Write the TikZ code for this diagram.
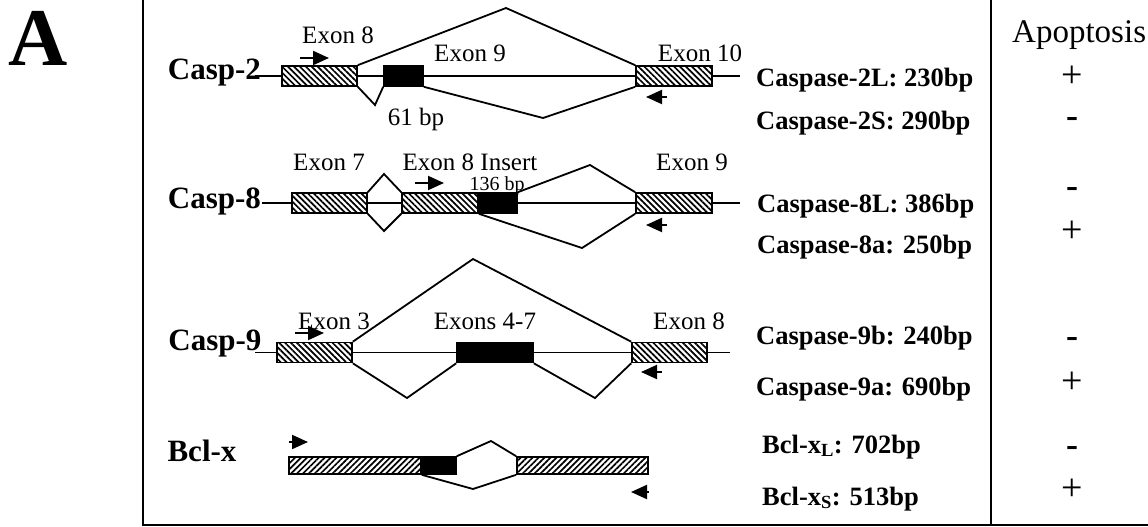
\documentclass[tikz,border=0pt]{standalone}
\usepackage{fontspec}
\setmainfont{Liberation Serif}
\usetikzlibrary{arrows.meta,patterns.meta}
\newcommand{\fsz}[1]{\fontsize{#1}{#1}\selectfont}

\begin{document}
\begin{tikzpicture}[x=1pt,y=-1pt,line width=1.8pt,
  ex/.style={draw,line width=1.6pt,inner sep=0pt,minimum height=20pt,preaction={fill=white},
    pattern={Lines[angle=-45,distance=4.2pt,line width=1.7pt]}},
  exb/.style={ex,minimum height=17pt,pattern={Lines[angle=45,distance=4.2pt,line width=1.7pt]}},
  blk/.style={draw,fill=black,line width=1.6pt,inner sep=0pt,minimum height=20pt},
  primer/.style={line width=2pt,-{Triangle[length=16pt,width=14pt]}},
  gene/.style={font=\bfseries\fsz{31},anchor=base},
  exlbl/.style={font=\fsz{25},anchor=base},
  iso/.style={font=\bfseries\fsz{26.5},anchor=base west},
  apo/.style={font=\fsz{38},anchor=base},
  neg/.style={font=\bfseries\fsz{36},anchor=base}]
\useasboundingbox (0,0) rectangle (1148,527);

\node[font=\bfseries\fsz{82},anchor=base,inner sep=0pt,text height=55pt,text depth=0pt] (pan) at (38,66) {A};
\draw[line width=2pt] (143,0) -- (143,525) -- (1148,525);
\draw[line width=2pt] (991,0) -- (991,525);

% Casp-2
\coordinate (a0) at (255,76); \coordinate (a1) at (740,76);
\coordinate (aup) at (506,8); \coordinate (adn) at (375,105); \coordinate (adn2) at (543,118);
\draw (a0) -- (a1);
\node[ex,minimum width=75pt] (a8) at (319.5,76) {};
\node[blk,minimum width=39pt] (a9) at (403.5,76) {};
\node[ex,minimum width=76pt] (a10) at (674,76) {};
\draw (a8.north east) -- (aup) -- (a10.north west);
\draw (a8.south east) -- (adn) -- (a9.south west);
\draw (a9.south east) -- (adn2) -- (a10.south west);
\draw[primer] (300,58) -- (329,58);
\draw[primer] (667,97) -- (646,97);
\node[gene] (ga) at (214.5,79) {Casp-2};
\node[exlbl] (la8) at (338,44) {Exon 8};
\node[exlbl] (la9) at (470,62) {Exon 9};
\node[exlbl] (la10) at (700,62) {Exon 10};
\node[exlbl] (lab) at (416,125) {61 bp};

% Casp-8
\coordinate (b0) at (262,203); \coordinate (b1) at (740,203);
\coordinate (bd1) at (384,174); \coordinate (bd2) at (384,231);
\coordinate (bup) at (590,165); \coordinate (bdn) at (582,248);
\draw (b0) -- (b1);
\node[ex,minimum width=75pt] (b7) at (329.5,203) {};
\node[ex,minimum width=76pt] (b8) at (440,203) {};
\node[blk,minimum width=39pt] (bi) at (497.5,203) {};
\node[ex,minimum width=76pt] (b9) at (674,203) {};
\draw (b7.north east) -- (bd1) -- (b8.north west);
\draw (b7.south east) -- (bd2) -- (b8.south west);
\draw (bi.north east) -- (bup) -- (b9.north west);
\draw (b8.south east) -- (bdn) -- (b9.south west);
\draw[primer] (415,183) -- (444,183);
\draw[primer] (667,225) -- (646,225);
\node[gene] (gb) at (214.5,208) {Casp-8};
\node[exlbl] (lb7) at (329,170) {Exon 7};
\node[exlbl] (lb8) at (470,170) {Exon 8 Insert};
\node[font=\fsz{20},anchor=base] (lbb) at (497,190) {136 bp};
\node[exlbl] (lb9) at (692,170) {Exon 9};

% Casp-9
\coordinate (c0) at (255,352.5); \coordinate (c1) at (730,352.5);
\coordinate (cup) at (473,259); \coordinate (cdn) at (407,398); \coordinate (cdn2) at (595,398);
\draw (c0) -- (c1);
\node[ex,minimum width=75pt] (c3) at (314.5,352.5) {};
\node[blk,minimum width=76pt] (c47) at (495,352.5) {};
\node[ex,minimum width=75pt] (c8) at (669.5,352.5) {};
\draw (c3.north east) -- (cup) -- (c8.north west);
\draw (c3.south east) -- (cdn) -- (c47.south west);
\draw (c47.south east) -- (cdn2) -- (c8.south west);
\draw[primer] (295,333) -- (324,333);
\draw[primer] (662,372) -- (641,372);
\node[gene] (gc) at (215,350) {Casp-9};
\node[exlbl] (lc3) at (334,329) {Exon 3};
\node[exlbl] (lc47) at (485,329) {Exons 4-7};
\node[exlbl] (lc8) at (689,329) {Exon 8};

% Bcl-x
\coordinate (dup) at (491,441); \coordinate (ddn) at (473,489);
\node[exb,minimum width=132pt] (d1) at (355,465.5) {};
\node[blk,minimum width=35pt,minimum height=17pt] (dk) at (438.5,465.5) {};
\node[exb,minimum width=131pt] (d2) at (582.5,465.5) {};
\draw (dk.north east) -- (dup) -- (d2.north west);
\draw (d1.south east) -- (ddn) -- (d2.south west);
\draw[primer] (289,442) -- (308,442);
\draw[primer] (649,492) -- (631,492);
\node[gene] (gd) at (202,461) {Bcl-x};

% isoforms
\node[iso] (i2l) at (752,86) {Caspase-2L: 230bp};
\node[iso] (i2s) at (752,129) {Caspase-2S: 290bp};
\node[iso] (i8l) at (753,212) {Caspase-8L: 386bp};
\node[iso] (i8a) at (753,253) {Caspase-8a: 250bp};
\node[iso] (i9b) at (752,344) {Caspase-9b: 240bp};
\node[iso] (i9a) at (752,395) {Caspase-9a: 690bp};
\node[iso] (ixl) at (758,453) {Bcl-x\textsubscript{L}: 702bp};
\node[iso] (ixs) at (758,505) {Bcl-x\textsubscript{S}: 513bp};

% apoptosis
\node[font=\fsz{33},anchor=base west] (apt) at (1008,43) {Apoptosis};
\node[apo] (p1) at (1072,87) {+};
\node[neg] (m1) at (1072,127) {-};
\node[neg] (m2) at (1072,197) {-};
\node[apo] (p2) at (1072,242) {+};
\node[neg] (m3) at (1072,347) {-};
\node[apo] (p3) at (1072,393) {+};
\node[neg] (m4) at (1072,456) {-};
\node[apo] (p4) at (1072,500) {+};
\end{tikzpicture}
\end{document}
